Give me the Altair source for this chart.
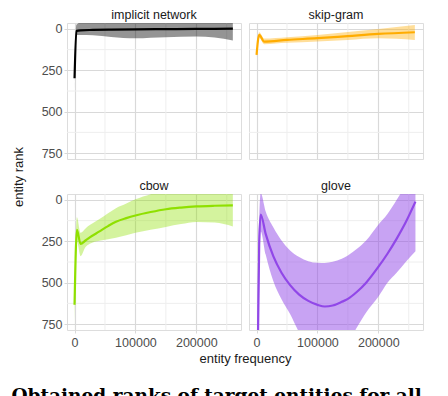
import altair as alt
import pandas as pd

# ---- data ----
names = ["implicit network", "skip-gram", "cbow", "glove"]
line_colors = ["#000000", "#FFAC00", "#8FE000", "#9147E8"]
band_opacity = [0.42, 0.4, 0.38, 0.5]

imp_x = [0, 3000, 10000, 30000, 60000, 100000, 150000, 200000, 230000, 260000]
imp_y = [298, 12, 8, 6, 4, 2, 1, 0, -1, -2]
imp_lo = [240, -25, -40, -50, -55, -60, -55, -50, -55, -75]
imp_hi = [360, 36, 36, 38, 48, 56, 50, 46, 52, 70]

sg_x = [0, 4400, 12600, 50000, 100000, 150000, 200000, 260000]
sg_y = [157, 36, 76, 66, 56, 43, 30, 20]
sg_lo = [140, 20, 58, 50, 36, 18, 0, -24]
sg_hi = [175, 55, 92, 84, 76, 66, 56, 66]

cb_x = [0, 3900, 9900, 18000, 25000, 41000, 55000, 68000, 85000, 100000,
        125000, 150000, 175000, 200000, 230000, 260000]
cb_y = [633, 180, 266, 245, 226, 190, 158, 132, 110, 94, 73, 56, 46, 39, 35, 33]
cb_lo = [500, 105, 198, 172, 152, 115, 80, 50, 22, -4, -35, -60, -72, -80, -90, -100]
cb_hi = [800, 250, 340, 285, 265, 246, 237, 228, 213, 198, 180, 163, 146, 133, 137, 160]

gl_x = [0, 4400, 6800, 15000, 27500, 41000, 55100, 70000, 85000, 100300, 112000,
        125000, 140000, 150000, 165000, 180000, 200000, 215000, 230000, 245000, 261000]
gl_y = [1500, 250, 88, 205, 340, 440, 515, 572, 610, 634, 644, 638, 616, 598,
        555, 500, 405, 325, 235, 135, 10]
gl_lo = [1000, 100, -40, 70, 165, 245, 305, 345, 370, 380, 381, 374, 355, 335,
         295, 245, 150, 85, 0, -90, -200]
gl_hi = [2000, 500, 190, 330, 490, 600, 690, 800, 880, 960, 980, 970, 910, 860,
         770, 680, 585, 500, 440, 375, 310]

x_ticks = [0, 100000, 200000]
x_minor = [50000, 150000, 250000]
y_ticks = [0, 250, 500, 750]
y_minor = [125, 375, 625]

series = [
    (imp_x, imp_y, imp_lo, imp_hi),
    (sg_x, sg_y, sg_lo, sg_hi),
    (cb_x, cb_y, cb_lo, cb_hi),
    (gl_x, gl_y, gl_lo, gl_hi),
]

FONT = "Liberation Sans"
W, H = 174, 136
xscale = alt.Scale(domain=[-12400, 273400], nice=False, zero=False)
yscale = alt.Scale(domain=[-36, 786], nice=False, zero=False, reverse=True)
GRID = "#d9d9d9"
MINOR = "#eeeeee"


def make_axes(i):
    show_x = i >= 2
    show_y = i % 2 == 0
    common = dict(
        grid=True, gridColor=GRID, gridWidth=1.2, domain=False,
        tickSize=3, tickColor=GRID, labelFont=FONT, labelFontSize=12.5,
        labelColor="#4d4d4d", titleFont=FONT, titleFontSize=13,
        titleFontWeight="normal", titleColor="#1a1a1a",
    )
    if i == 2:
        xaxis = alt.Axis(
            values=x_ticks, format="d", labels=True, ticks=True, labelPadding=3,
            title="entity frequency",
            titleX=178, titleY=28, titleAlign="center", titleBaseline="middle",
            **common,
        )
    else:
        xaxis = alt.Axis(values=x_ticks, format="d", labels=show_x, ticks=show_x,
                         labelPadding=3, title=None, **common)
    if i == 0:
        yaxis = alt.Axis(
            values=y_ticks, labels=True, ticks=True, labelPadding=2,
            title="entity rank",
            titleX=-49, titleY=H + 17.5, titleAngle=270, titleAlign="center",
            titleBaseline="middle",
            **common,
        )
    else:
        yaxis = alt.Axis(values=y_ticks, labels=show_y, ticks=show_y,
                         labelPadding=2, title=None, **common)
    return xaxis, yaxis


def panel(i):
    xs, ys, los, his = series[i]
    df = pd.DataFrame({"x": xs, "y": ys, "lo": los, "hi": his})
    xaxis, yaxis = make_axes(i)

    vminor = alt.Chart(pd.DataFrame({"v": x_minor})).mark_rule(
        color=MINOR, strokeWidth=1
    ).encode(x=alt.X("v:Q", scale=xscale, axis=xaxis))
    hminor = alt.Chart(pd.DataFrame({"v": y_minor})).mark_rule(
        color=MINOR, strokeWidth=1
    ).encode(y=alt.Y("v:Q", scale=yscale, axis=yaxis))

    base = alt.Chart(df)
    band = base.mark_area(
        color=line_colors[i], opacity=band_opacity[i], clip=True, interpolate="monotone"
    ).encode(
        x=alt.X("x:Q", scale=xscale, axis=xaxis),
        y=alt.Y("lo:Q", scale=yscale, axis=yaxis),
        y2="hi:Q",
    )
    line = base.mark_line(
        color=line_colors[i], strokeWidth=2.2, clip=True, interpolate="monotone"
    ).encode(
        x=alt.X("x:Q", scale=xscale, axis=xaxis),
        y=alt.Y("y:Q", scale=yscale, axis=yaxis),
    )
    return alt.layer(vminor, hminor, band, line).properties(
        width=W, height=H,
        title=alt.Title(names[i], font=FONT, fontSize=12.5, fontWeight="normal",
                        color="#1a1a1a", offset=1, frame="group"),
    )


chart = alt.concat(
    panel(0), panel(1), panel(2), panel(3),
    columns=2, spacing={"row": 35, "column": 8}, bounds="flush",
).properties(
    title=alt.Title(
        "Obtained ranks of target entities for all",
        orient="bottom", anchor="start", font="DejaVu Serif", fontWeight="bold",
        fontSize=18.5, color="#000000", offset=21,
    )
).configure_view(
    stroke="#d4d4d4", strokeWidth=1
).configure(
    background="white", padding={"left": 3, "top": 0, "right": 0, "bottom": 0}
)

chart.save("out.html", embed_options={"renderer": "svg", "actions": False})
